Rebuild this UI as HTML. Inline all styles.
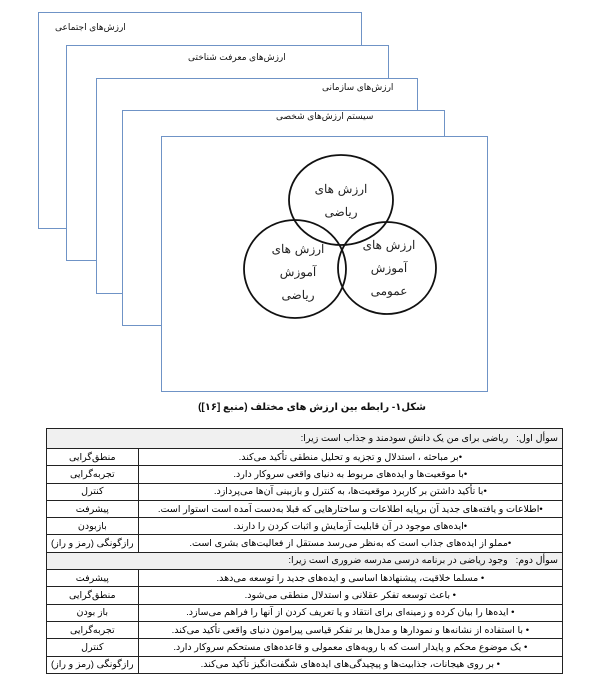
<!DOCTYPE html>
<html><head><meta charset="utf-8"><style>
body{margin:0;width:598px;height:686px;background:#fff;position:relative;overflow:hidden;font-family:"Liberation Sans","DejaVu Sans",sans-serif;}
.f{position:absolute;border:1.3px solid #6f93c6;background:#fff;box-sizing:border-box;}
.t{position:absolute;font-size:9px;direction:rtl;white-space:nowrap;color:#111;}
table{position:absolute;left:46px;top:428px;width:517px;border-collapse:collapse;direction:ltr;font-size:9.5px;}
td{border:1px solid #222;padding:0 4px;text-align:center;white-space:nowrap;overflow:hidden;direction:rtl;}
td.l{width:78px;}
tr{height:17.3px;}
tr.h td{background:#f0f0f0;}
</style></head><body>
<div class="f" style="left:38px;top:12px;width:324px;height:217px"></div>
<div class="f" style="left:66px;top:45px;width:323px;height:216px"></div>
<div class="f" style="left:96px;top:78px;width:322px;height:216px"></div>
<div class="f" style="left:122px;top:110px;width:323px;height:216px"></div>
<div class="f" style="left:161px;top:136px;width:327px;height:256px"></div>
<div class="t" style="left:55px;top:22px">ارزش‌های اجتماعی</div>
<div class="t" style="left:188px;top:52px">ارزش‌های معرفت شناختی</div>
<div class="t" style="left:322px;top:82px">ارزش‌های سازمانی</div>
<div class="t" style="left:276px;top:111px">سیستم ارزش‌های شخصی</div>
<svg style="position:absolute;left:0;top:0" width="598" height="686">
<g fill="none" stroke="#111" stroke-width="1.8">
<ellipse cx="341" cy="200" rx="52" ry="45"/>
<ellipse cx="295" cy="269" rx="51" ry="49"/>
<ellipse cx="387" cy="268" rx="49" ry="46"/>
</g>
<g font-family="DejaVu Serif,serif" font-size="12" text-anchor="middle" fill="#222" direction="rtl">
<text x="341" y="193">ارزش های</text><text x="341" y="216">ریاضی</text>
<text x="298" y="253">ارزش های</text><text x="298" y="276">آموزش</text><text x="298" y="299">ریاضی</text>
<text x="389" y="249">ارزش های</text><text x="389" y="272">آموزش</text><text x="389" y="295">عمومی</text>
</g>
</svg>
<div class="t" style="left:172px;top:402px;width:280px;text-align:center;font-weight:bold;font-size:10px">شکل۱- رابطه بین ارزش های مختلف (منبع [۱۶])</div>
<table>
<tr class="h" style="height:20px"><td colspan="2" style="text-align:right">سوأل اول:&nbsp;&nbsp; ریاضی برای من یک دانش سودمند و جذاب است زیرا:</td></tr>
<tr><td class="l">منطق‌گرایی</td><td>•بر مباحثه ، استدلال و تجزیه و تحلیل منطقی تأکید می‌کند.</td></tr>
<tr><td class="l">تجربه‌گرایی</td><td>•با موقعیت‌ها و ایده‌های مربوط به دنیای واقعی سروکار دارد.</td></tr>
<tr><td class="l">کنترل</td><td>•با تأکید داشتن بر کاربرد موقعیت‌ها، به کنترل و بازبینی آن‌ها می‌پردازد.</td></tr>
<tr><td class="l">پیشرفت</td><td>•اطلاعات و یافته‌های جدید آن برپایه اطلاعات و ساختارهایی که قبلا به‌دست آمده است استوار است.</td></tr>
<tr><td class="l">بازبودن</td><td>•ایده‌های موجود در آن قابلیت آزمایش و اثبات کردن را دارند.</td></tr>
<tr><td class="l">رازگونگی (رمز و راز)</td><td>•مملو از ایده‌های جذاب است که به‌نظر می‌رسد مستقل از فعالیت‌های بشری است.</td></tr>
<tr class="h"><td colspan="2" style="text-align:right">سوأل دوم:&nbsp;&nbsp; وجود ریاضی در برنامه درسی مدرسه ضروری است زیرا:</td></tr>
<tr><td class="l">پیشرفت</td><td>• مسلما خلاقیت، پیشنهادها اساسی و ایده‌های جدید را توسعه می‌دهد.</td></tr>
<tr><td class="l">منطق‌گرایی</td><td>• باعث توسعه تفکر عقلانی و استدلال منطقی می‌شود.</td></tr>
<tr><td class="l">باز بودن</td><td>• ایده‌ها را بیان کرده و زمینه‌ای برای انتقاد و یا تعریف کردن از آنها را فراهم می‌سازد.</td></tr>
<tr><td class="l">تجربه‌گرایی</td><td>• با استفاده از نشانه‌ها و نمودارها و مدل‌ها بر تفکر قیاسی پیرامون دنیای واقعی تأکید می‌کند.</td></tr>
<tr><td class="l">کنترل</td><td>• یک موضوع محکم و پایدار است که با رویه‌های معمولی و قاعده‌های مستحکم سروکار دارد.</td></tr>
<tr><td class="l">رازگونگی (رمز و راز)</td><td>• بر روی هیجانات، جذابیت‌ها و پیچیدگی‌های ایده‌های شگفت‌انگیز تأکید می‌کند.</td></tr>
</table>
</body></html>
